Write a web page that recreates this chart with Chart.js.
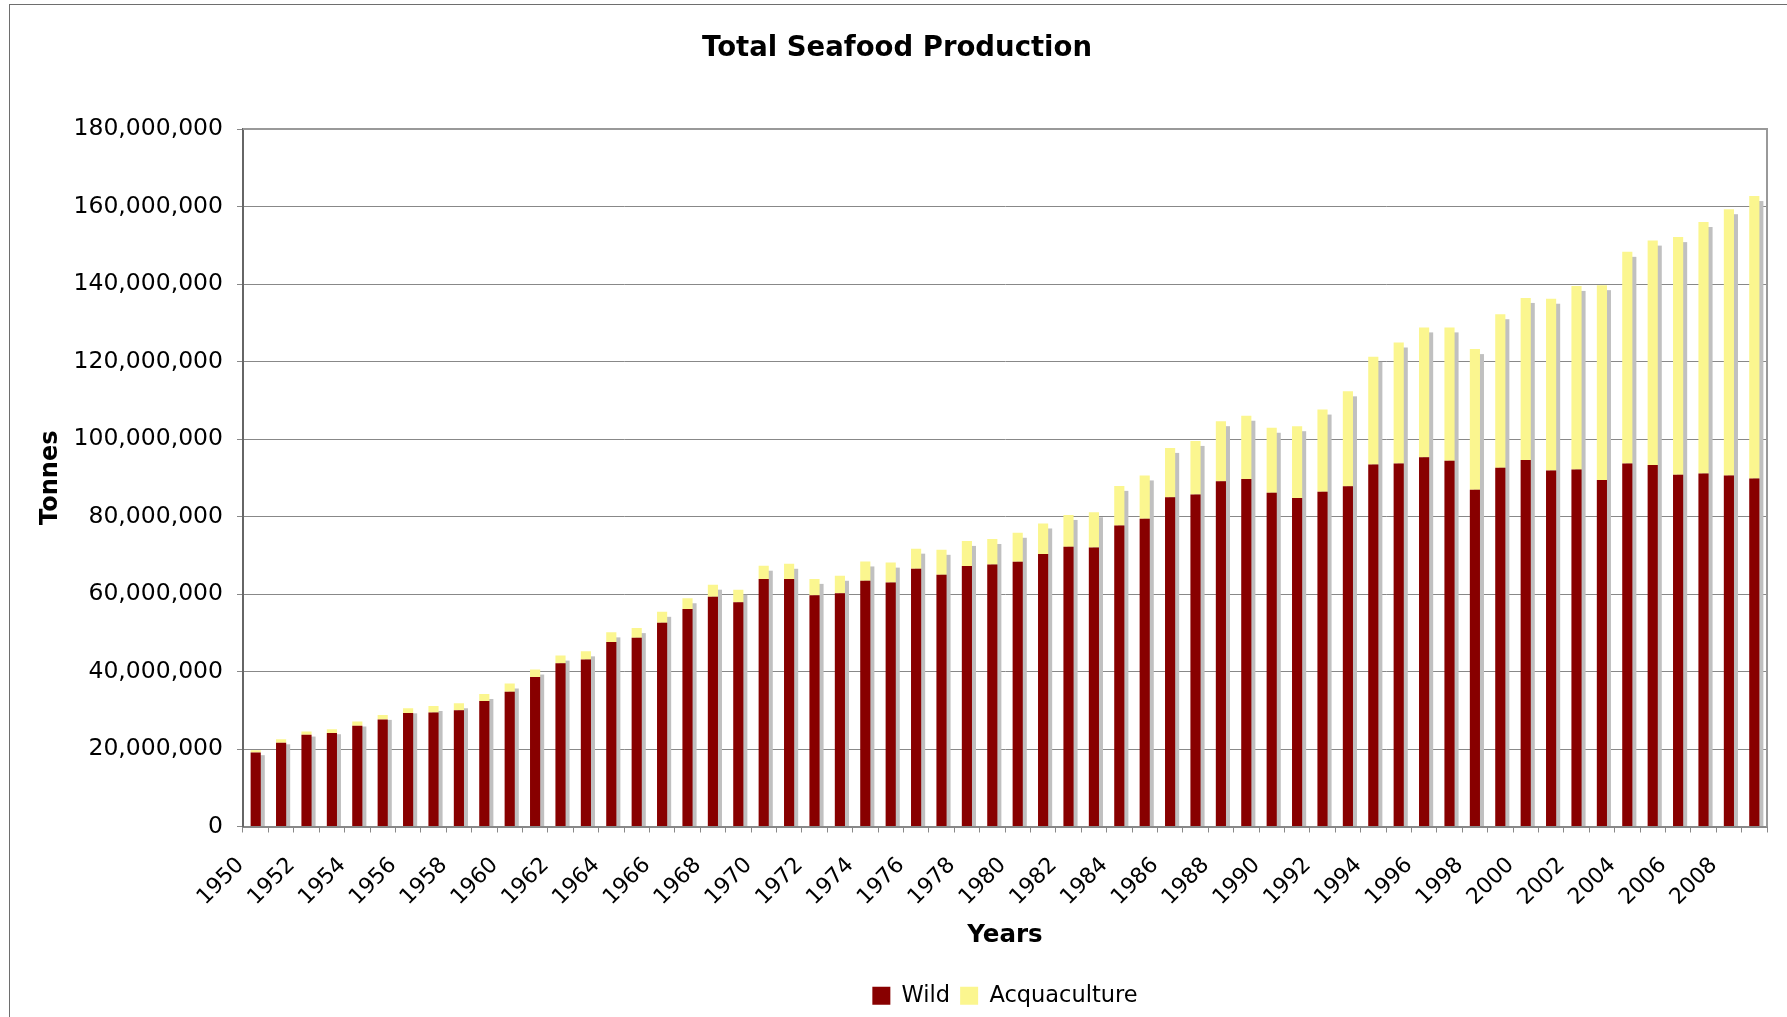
<!DOCTYPE html>
<html>
<head>
<meta charset="utf-8">
<title>Total Seafood Production</title>
<script src="https://cdn.jsdelivr.net/npm/chart.js@4.4.0/dist/chart.umd.min.js"></script>
<style>
  html, body { margin: 0; padding: 0; background: #fff; }
  #wrap { position: relative; width: 1787px; height: 1017px; overflow: hidden; }
  #frame {
    position: absolute; left: 9px; top: 4px; right: 0; bottom: 0;
    border-top: 1px solid #6e6e6e; border-left: 1px solid #6e6e6e;
  }
  #seafoodChart { position: absolute; left: 0; top: 0; }
</style>
</head>
<body>
<div id="wrap">
  <div id="frame"></div>
  <canvas id="seafoodChart" width="1787" height="1017"></canvas>
</div>
<script>
  // ── Data (tonnes) ───────────────────────────────────────────────────────
  const YEARS = [
    '1950', '1951', '1952', '1953', '1954', '1955', '1956', '1957', '1958', '1959',
    '1960', '1961', '1962', '1963', '1964', '1965', '1966', '1967', '1968', '1969',
    '1970', '1971', '1972', '1973', '1974', '1975', '1976', '1977', '1978', '1979',
    '1980', '1981', '1982', '1983', '1984', '1985', '1986', '1987', '1988', '1989',
    '1990', '1991', '1992', '1993', '1994', '1995', '1996', '1997', '1998', '1999',
    '2000', '2001', '2002', '2003', '2004', '2005', '2006', '2007', '2008', '2009',
  ];

  const WILD = [
    19.1e6, 21.6e6, 23.7e6, 24.1e6, 26.0e6, 27.6e6, 29.3e6, 29.4e6, 30.0e6, 32.4e6,
    34.8e6, 38.6e6, 42.1e6, 43.1e6, 47.6e6, 48.7e6, 52.6e6, 56.1e6, 59.3e6, 57.9e6,
    63.9e6, 63.9e6, 59.7e6, 60.2e6, 63.4e6, 63.0e6, 66.5e6, 65.0e6, 67.2e6, 67.6e6,
    68.3e6, 70.3e6, 72.2e6, 72.0e6, 77.7e6, 79.4e6, 85.0e6, 85.7e6, 89.1e6, 89.7e6,
    86.1e6, 84.8e6, 86.4e6, 87.8e6, 93.4e6, 93.7e6, 95.3e6, 94.4e6, 86.9e6, 92.6e6,
    94.6e6, 91.9e6, 92.1e6, 89.4e6, 93.7e6, 93.3e6, 90.8e6, 91.1e6, 90.6e6, 89.8e6,
  ];

  const AQUACULTURE = [
    0.6e6, 0.9e6, 0.8e6, 1.0e6, 1.1e6, 1.2e6, 1.2e6, 1.7e6, 1.8e6, 1.8e6,
    2.1e6, 1.9e6, 2.0e6, 2.1e6, 2.5e6, 2.5e6, 2.8e6, 2.8e6, 3.1e6, 3.2e6,
    3.4e6, 3.9e6, 4.2e6, 4.5e6, 5.0e6, 5.1e6, 5.2e6, 6.4e6, 6.5e6, 6.6e6,
    7.5e6, 7.9e6, 8.2e6, 9.1e6, 10.2e6, 11.2e6, 12.7e6, 13.8e6, 15.5e6, 16.3e6,
    16.8e6, 18.5e6, 21.2e6, 24.5e6, 27.8e6, 31.2e6, 33.5e6, 34.4e6, 36.3e6, 39.6e6,
    41.8e6, 44.3e6, 47.4e6, 50.3e6, 54.6e6, 57.9e6, 61.3e6, 64.9e6, 68.7e6, 72.9e6,
  ];

  const Y_MAX  = 180000000;
  const Y_STEP = 20000000;

  const FONT = 'DejaVu Sans, Verdana, sans-serif';

  // grey drop shadow behind each stacked column
  const columnShadow = {
    id: 'columnShadow',
    beforeDatasetsDraw(chart) {
      const { ctx } = chart;
      const lower = chart.getDatasetMeta(0).data;
      const upper = chart.getDatasetMeta(1).data;
      ctx.save();
      ctx.fillStyle = '#c0c0c0';
      lower.forEach((bar, i) => {
        const top = upper[i].y;
        const w = bar.width;
        ctx.fillRect(bar.x - w / 2 + 4, top + 5, w, bar.base - top - 5);
      });
      ctx.restore();
    },
  };

  // top and right edges of the plot box
  const plotFrame = {
    id: 'plotFrame',
    afterDatasetsDraw(chart) {
      const { ctx, chartArea: a } = chart;
      ctx.save();
      ctx.strokeStyle = '#999';
      ctx.lineWidth = 2;
      ctx.beginPath();
      ctx.moveTo(a.left, a.top);
      ctx.lineTo(a.right, a.top);
      ctx.lineTo(a.right, a.bottom);
      ctx.stroke();
      ctx.restore();
    },
  };

  Chart.defaults.font.family = FONT;
  Chart.defaults.color = '#000';

  new Chart(document.getElementById('seafoodChart'), {
    type: 'bar',
    data: {
      labels: YEARS,
      datasets: [
        {
          label: 'Wild',
          data: WILD,
          backgroundColor: '#880000',
          borderWidth: 0,
          barPercentage: 0.4,
          categoryPercentage: 1,
        },
        {
          label: 'Acquaculture',
          data: AQUACULTURE,
          backgroundColor: '#fbf68f',
          borderWidth: 0,
          barPercentage: 0.4,
          categoryPercentage: 1,
        },
      ],
    },
    options: {
      responsive: false,
      animation: false,
      layout: { padding: { top: 0, right: 20, bottom: 0, left: 27 } },
      plugins: {
        title: {
          display: true,
          text: 'Total Seafood Production',
          color: '#000',
          font: { size: 27.5, weight: 'bold' },
          padding: { top: 32, bottom: 64 },
        },
        legend: {
          position: 'bottom',
          fullSize: false,
          labels: {
            boxWidth: 18,
            boxHeight: 18,
            padding: 10,
            color: '#000',
            font: { size: 22.5 },
          },
        },
        tooltip: { enabled: false },
      },
      scales: {
        x: {
          stacked: true,
          // fixed band below the plot; rotated labels must not squeeze the plot
          afterFit: s => { s.height = 148; s.paddingLeft = 0; s.paddingRight = 0; },
          grid: {
            offset: true,
            drawOnChartArea: false,
            drawTicks: true,
            tickLength: 6,
            color: '#888',
          },
          border: { color: '#888', width: 2 },
          ticks: {
            autoSkip: false,
            minRotation: 45,
            maxRotation: 45,
            padding: 20,
            labelOffset: -15,
            font: { size: 22 },
            callback: (v, i) => (i % 2 === 0 ? YEARS[i] : ''),
          },
          title: {
            display: true,
            text: 'Years',
            font: { size: 24.5, weight: 'bold' },
            padding: { top: 0, bottom: 24 },
          },
        },
        y: {
          stacked: true,
          min: 0,
          max: Y_MAX,
          afterFit: s => { s.width = 216; },
          grid: { color: '#888', lineWidth: 1, tickLength: 6 },
          border: { color: '#666', width: 2 },
          ticks: {
            stepSize: Y_STEP,
            padding: 14,
            font: { size: 23.5 },
            callback: v => v.toLocaleString('en-US'),
          },
          title: {
            display: true,
            text: 'Tonnes',
            font: { size: 24, weight: 'bold' },
            padding: { top: 9.5, bottom: 0 },
          },
        },
      },
    },
    plugins: [columnShadow, plotFrame],
  });
</script>
</body>
</html>
